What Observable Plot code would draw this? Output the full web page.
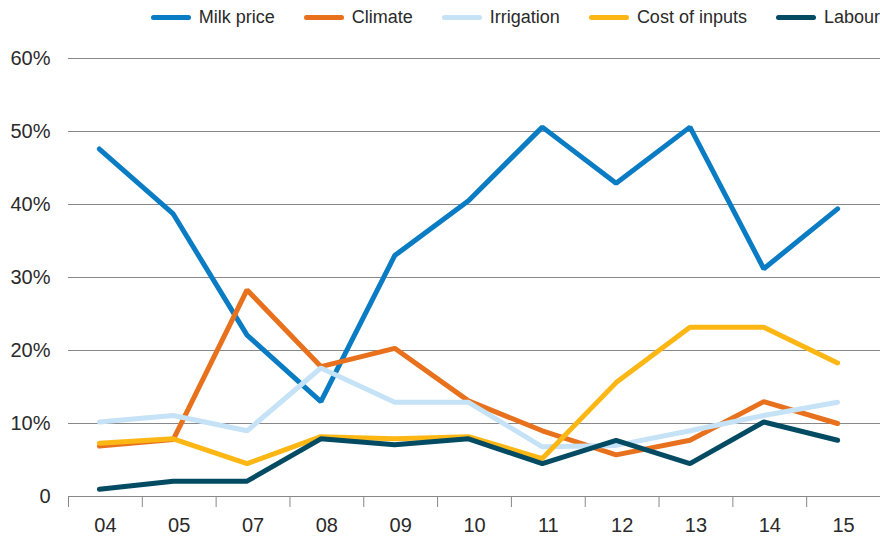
<!DOCTYPE html>
<html><head><meta charset="utf-8">
<script src="https://cdn.jsdelivr.net/npm/d3@7"></script>
<script src="https://cdn.jsdelivr.net/npm/@observablehq/plot@0.6"></script>
<style>
body{margin:0;background:#fff;font-family:"Liberation Sans",Arial,sans-serif;}
#wrap{width:880px;}
#legend{height:34px;display:flex;justify-content:flex-end;align-items:center;font-size:18px;color:#2a2a2a;}
.item{display:flex;align-items:center;margin-left:29px;}
.sw{width:40px;height:5px;border-radius:3px;margin-right:8px;}
</style></head>
<body><div id="wrap"><div id="legend"></div><div id="chart"></div></div>
<script>
const years = ["04","05","07","08","09","10","11","12","13","14","15"];
const seriesNames = ["Milk price","Climate","Irrigation","Cost of inputs","Labour"];
const milkPrice    = [47.6, 38.7, 22.1, 13.0, 33.0, 40.5, 50.6, 42.9, 50.6, 31.2, 39.4];
const climate      = [6.9, 7.8, 28.3, 17.8, 20.3, 13.1, 9.0, 5.7, 7.7, 13.0, 10.0];
const irrigation   = [10.2, 11.1, 9.0, 17.6, 12.9, 12.9, 6.8, 7.0, 9.0, 11.1, 12.9];
const costOfInputs = [7.3, 7.9, 4.5, 8.2, 7.9, 8.2, 5.2, 15.6, 23.2, 23.2, 18.3];
const labour       = [1.0, 2.1, 2.1, 7.9, 7.1, 7.9, 4.5, 7.7, 4.5, 10.2, 7.7];
const yTicks = [0, 10, 20, 30, 40, 50, 60];
const colors = ["#0a7cc4", "#e8711e", "#c5e2f6", "#fdb714", "#024b63"];

const seriesValues = [milkPrice, climate, irrigation, costOfInputs, labour];
const data = seriesNames.flatMap((name, s) =>
  years.map((yr, i) => ({series: name, i, value: seriesValues[s][i]})));

// legend
const legend = document.getElementById("legend");
seriesNames.forEach((n, k) => {
  const it = document.createElement("div");
  it.className = "item";
  if (k === 0) it.style.marginLeft = "0";
  const sw = document.createElement("span");
  sw.className = "sw";
  sw.style.background = colors[k];
  const tx = document.createElement("span");
  tx.textContent = n;
  it.appendChild(sw); it.appendChild(tx);
  legend.appendChild(it);
});

const boundaries = d3.range(years.length + 1).map(k => k - 0.5);

const chart = Plot.plot({
  width: 880,
  height: 503,
  marginLeft: 68,
  marginRight: 0,
  marginTop: 24,
  marginBottom: 41,
  style: {fontSize: "20px", fontFamily: "'Liberation Sans', Arial, sans-serif", color: "#2a2a2a", background: "#fff"},
  x: {type: "linear", domain: [-0.5, years.length - 0.5]},
  y: {domain: [0, 60]},
  color: {domain: seriesNames, range: colors},
  marks: [
    Plot.gridY(yTicks.filter(d => d > 0), {stroke: "#888", strokeOpacity: 1, strokeWidth: 1}),
    Plot.ruleY([0], {stroke: "#888", strokeWidth: 1.2}),
    Plot.axisY({ticks: yTicks, tickSize: 0, tickPadding: 18, tickFormat: d => d === 0 ? "0" : d + "%", label: null}),
    Plot.axisX({ticks: boundaries, tickSize: 11, tickFormat: () => "", stroke: "#888", label: null}),
    Plot.axisX({ticks: d3.range(years.length), tickSize: 0, tickPadding: 21, tickFormat: i => years[i], label: null}),
    Plot.line(data, {x: "i", y: "value", z: "series", stroke: "series", strokeWidth: 5,
      strokeLinecap: "round", strokeLinejoin: "miter", dx: -6})
  ]
});
document.getElementById("chart").appendChild(chart);
</script>
</body></html>
